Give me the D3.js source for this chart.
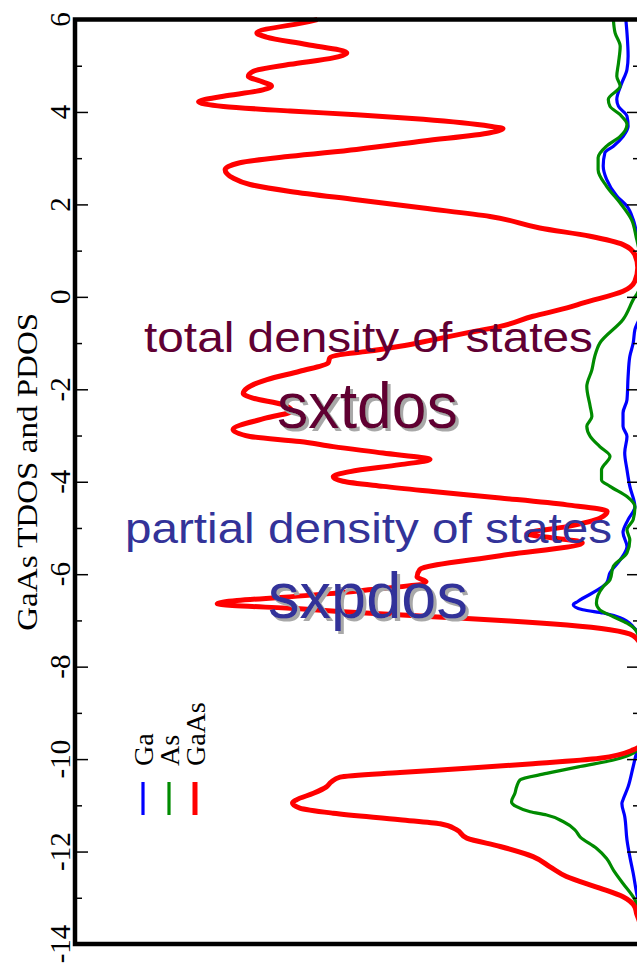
<!DOCTYPE html>
<html>
<head>
<meta charset="utf-8">
<script src="https://cdn.jsdelivr.net/npm/d3@7"></script>
<style>
html, body { margin: 0; padding: 0; background: #fff; overflow: hidden; }
</style>
</head>
<body>
<script>
const serif = "\"Liberation Serif\", \"Times New Roman\", serif";
const sans = "\"Liberation Sans\", Arial, Helvetica, sans-serif";

// energy (eV), density of states (arb. units)
const gaasDos = [
    [6.00, 5.70], [5.96, 5.83], [5.71, 6.77], [5.62, 6.60], [5.46, 5.89], [5.28, 5.18],
    [5.17, 5.42], [5.03, 6.18], [4.88, 6.83], [4.77, 6.92], [4.67, 6.71], [4.56, 6.51],
    [4.45, 6.77], [4.34, 7.36], [4.22, 7.80], [4.12, 7.36], [4.02, 6.18], [3.94, 5.01],
    [3.84, 3.83], [3.69, 2.65], [3.64, 2.42], [3.55, 2.65], [3.37, 3.83], [3.19, 5.01],
    [3.04, 6.18], [2.90, 7.07], [2.75, 7.33], [2.57, 7.19], [2.43, 6.89], [2.28, 6.18],
    [2.10, 5.01], [1.92, 3.83], [1.74, 2.65], [1.49, 1.77], [1.31, 0.88], [1.13, 0.30],
    [0.91, 0.09], [0.63, 0.04], [0.34, 0.09], [0.12, 0.30], [-0.13, 1.00], [-0.24, 1.29],
    [-0.42, 1.89], [-0.64, 2.47], [-0.78, 3.06], [-0.93, 3.66], [-1.07, 4.24], [-1.18, 4.82],
    [-1.25, 5.30], [-1.32, 5.48], [-1.43, 5.51], [-1.61, 6.01], [-1.79, 6.59], [-1.97, 6.94],
    [-2.09, 7.01], [-2.19, 6.84], [-2.33, 6.31], [-2.47, 6.15], [-2.62, 6.60], [-2.87, 7.19],
    [-3.02, 6.89], [-3.13, 6.01], [-3.24, 5.42], [-3.38, 4.54], [-3.52, 3.71], [-3.63, 4.24],
    [-3.78, 5.12], [-3.89, 5.42], [-3.99, 5.25], [-4.10, 4.54], [-4.21, 3.66], [-4.35, 2.47],
    [-4.50, 1.29], [-4.64, 0.58], [-4.79, 0.71], [-4.97, 1.29], [-5.12, 2.00], [-5.32, 1.02],
    [-5.60, 2.47], [-5.90, 3.89], [-6.06, 3.94], [-6.16, 3.78], [-6.42, 5.48], [-6.64, 7.47],
    [-6.75, 6.01], [-6.81, 5.25], [-6.92, 3.66], [-7.01, 2.30], [-7.10, 1.29], [-7.20, 0.53],
    [-7.33, 0.12], [-7.53, 0.00], [-9.70, 0.00], [-9.80, 0.12], [-9.98, 0.71], [-10.10, 1.89],
    [-10.20, 3.06], [-10.29, 4.24], [-10.39, 5.30], [-10.49, 5.45], [-10.60, 5.54], [-10.74, 5.77],
    [-10.88, 6.07], [-10.95, 6.14], [-11.06, 6.01], [-11.17, 5.42], [-11.31, 4.24], [-11.40, 3.53],
    [-11.53, 3.24], [-11.71, 3.06], [-11.89, 2.47], [-12.11, 1.89], [-12.33, 1.59], [-12.54, 1.30],
    [-12.79, 0.71], [-12.98, 0.30], [-13.20, 0.09], [-13.34, 0.06], [-13.59, 0.00], [-14.00, 0.00]
];

const asDos = [
    [6.00, 0.47], [5.71, 0.44], [5.42, 0.35], [5.06, 0.38], [4.77, 0.41], [4.56, 0.35],
    [4.27, 0.56], [4.12, 0.53], [3.94, 0.35], [3.73, 0.23], [3.47, 0.35], [3.26, 0.59],
    [3.01, 0.74], [2.75, 0.74], [2.39, 0.59], [2.03, 0.35], [1.67, 0.15], [1.31, 0.07],
    [0.80, 0.00], [0.16, 0.02], [-0.06, 0.12], [-0.49, 0.30], [-1.00, 0.71], [-1.29, 0.80],
    [-1.58, 0.85], [-1.94, 0.94], [-2.37, 0.88], [-2.59, 0.85], [-2.80, 0.94], [-3.02, 0.88],
    [-3.24, 0.71], [-3.45, 0.53], [-3.74, 0.68], [-3.96, 0.68], [-4.10, 0.53], [-4.32, 0.23],
    [-4.54, 0.09], [-4.82, 0.12], [-5.04, 0.23], [-5.26, 0.18], [-5.54, 0.23], [-5.83, 0.47],
    [-6.12, 0.53], [-6.27, 0.65], [-6.63, 0.77], [-6.77, 0.71], [-6.92, 0.47], [-7.06, 0.23],
    [-7.24, 0.06], [-7.53, 0.00], [-9.69, 0.00], [-9.87, 0.12], [-10.02, 0.47], [-10.16, 1.06],
    [-10.31, 1.65], [-10.45, 2.12], [-10.60, 2.18], [-10.74, 2.21], [-10.92, 2.27], [-11.03, 2.18],
    [-11.14, 1.94], [-11.21, 1.65], [-11.35, 1.36], [-11.53, 1.15], [-11.68, 1.06], [-11.93, 0.77],
    [-12.15, 0.59], [-12.40, 0.47], [-12.69, 0.30], [-12.98, 0.12], [-13.12, 0.06], [-13.37, 0.00],
    [-14.00, 0.00]
];

const gaDos = [
    [6.00, 0.25], [5.71, 0.23], [5.21, 0.21], [4.92, 0.23], [4.63, 0.32], [4.27, 0.41],
    [4.12, 0.38], [3.91, 0.23], [3.69, 0.21], [3.47, 0.30], [3.26, 0.47], [3.12, 0.62],
    [2.83, 0.65], [2.54, 0.59], [2.18, 0.41], [1.96, 0.23], [1.67, 0.12], [1.39, 0.06],
    [1.02, 0.00], [-0.39, 0.00], [-0.71, 0.09], [-1.00, 0.12], [-1.29, 0.18], [-1.72, 0.21],
    [-2.23, 0.23], [-2.51, 0.30], [-2.80, 0.30], [-3.02, 0.23], [-3.37, 0.27], [-3.74, 0.23],
    [-4.10, 0.18], [-4.54, 0.09], [-4.82, 0.21], [-5.10, 0.30], [-5.40, 0.23], [-5.69, 0.35],
    [-5.97, 0.53], [-6.19, 0.59], [-6.59, 1.10], [-6.66, 1.18], [-6.77, 1.01], [-6.84, 0.65],
    [-6.94, 0.35], [-7.14, 0.12], [-7.42, 0.00], [-9.69, 0.00], [-9.87, 0.06], [-10.16, 0.12],
    [-10.60, 0.21], [-10.88, 0.30], [-10.96, 0.32], [-11.24, 0.27], [-11.75, 0.23], [-12.11, 0.18],
    [-12.47, 0.12], [-12.90, 0.06], [-13.26, 0.00], [-14.00, 0.00]
];

const seriesNames = ["Ga", "As", "GaAs"];
const seriesColors = ["#0000ff", "#008b00", "#ff0000"];
const seriesWidths = [3.2, 3.2, 5];
const seriesData = [gaDos, asDos, gaasDos];

const majorTicks = [-14, -12, -10, -8, -6, -4, -2, 0, 2, 4, 6];
const minorTicks = [-13, -11, -9, -7, -5, -3, -1, 1, 3, 5];
const axisTitle = "GaAs TDOS and PDOS";

const width = 637;
const height = 967;
const frame = { left: 75, right: 641, top: 19.5, bottom: 944 };

let svg = d3.select("body")
    .append("svg")
    .attr("width", width)
    .attr("height", height);

// soft grey drop shadow for the big program names
svg.append("defs")
    .append("filter")
    .attr("id", "shadow")
    .attr("x", "-10%")
    .attr("y", "-10%")
    .attr("width", "130%")
    .attr("height", "130%")
    .append("feDropShadow")
    .attr("dx", 3)
    .attr("dy", 3)
    .attr("stdDeviation", 0.6)
    .attr("flood-color", "#a8a8a8")
    .attr("flood-opacity", 1);

let yScale = d3.scaleLinear()
    .domain([-14, 6])
    .range([frame.bottom, frame.top]);

let xScale = d3.scaleLinear()
    .domain([0, 10])
    .range([640, 74]);


function drawCurves() {
    let line = d3.line()
        .x(d => xScale(d[1]))
        .y(d => yScale(d[0]))
        .curve(d3.curveMonotoneY);

    svg.append("g")
        .classed("curves", true)
        .selectAll("path")
        .data(seriesData)
        .enter()
        .append("path")
        .attr("d", d => line(d))
        .attr("fill", "none")
        .attr("stroke", (d, i) => seriesColors[i])
        .attr("stroke-width", (d, i) => seriesWidths[i])
        .attr("stroke-linejoin", "round");
}


function drawAxes() {
    let ticks = svg.append("g").classed("ticks", true);

    let addAxis = (axis, x) => {
        let g = ticks.append("g")
            .attr("transform", `translate(${x},0)`)
            .call(axis);
        g.select(".domain").remove();
        g.selectAll("line").attr("stroke", "#000").attr("stroke-width", 1.5);
        g.selectAll("text").remove();
    };

    addAxis(d3.axisRight(yScale).tickValues(majorTicks).tickSize(13), frame.left);
    addAxis(d3.axisRight(yScale).tickValues(minorTicks).tickSize(7), frame.left);
    addAxis(d3.axisLeft(yScale).tickValues(majorTicks).tickSize(14), frame.right);
    addAxis(d3.axisLeft(yScale).tickValues(minorTicks).tickSize(8), frame.right);

    svg.append("g")
        .classed("tick-labels", true)
        .selectAll("text")
        .data(majorTicks)
        .enter()
        .append("text")
        .attr("transform", d => `translate(70,${yScale(d)}) rotate(-90)`)
        .attr("text-anchor", "middle")
        .attr("font-family", serif)
        .attr("font-size", 29)
        .attr("fill", "#000")
        .text(d => String(d));

    svg.append("text")
        .attr("transform", `translate(37,${(frame.top + frame.bottom) / 2 - 10}) rotate(-90)`)
        .attr("text-anchor", "middle")
        .attr("font-family", serif)
        .attr("font-size", 30)
        .attr("textLength", 318)
        .attr("lengthAdjust", "spacingAndGlyphs")
        .attr("fill", "#000")
        .text(axisTitle);

    svg.append("rect")
        .attr("x", frame.left)
        .attr("y", frame.top)
        .attr("width", frame.right - frame.left)
        .attr("height", frame.bottom - frame.top)
        .attr("fill", "none")
        .attr("stroke", "#000")
        .attr("stroke-width", 4.5);
}


function drawLegend() {
    let xs = [143, 169, 195];
    let g = svg.append("g").classed("legend", true);

    g.selectAll("line")
        .data(seriesNames)
        .enter()
        .append("line")
        .attr("x1", (d, i) => xs[i])
        .attr("x2", (d, i) => xs[i])
        .attr("y1", 782)
        .attr("y2", 815)
        .attr("stroke", (d, i) => seriesColors[i])
        .attr("stroke-width", (d, i) => seriesWidths[i]);

    g.selectAll("text")
        .data(seriesNames)
        .enter()
        .append("text")
        .attr("transform", (d, i) => `translate(${xs[i] + 10},766) rotate(-90)`)
        .attr("font-family", serif)
        .attr("font-size", 28)
        .attr("fill", "#000")
        .text(d => d);
}


function drawNote(text, x, y, size, length, color, shadow) {
    let note = svg.append("text")
        .attr("x", x)
        .attr("y", y)
        .attr("font-family", sans)
        .attr("font-size", size)
        .attr("textLength", length)
        .attr("lengthAdjust", "spacingAndGlyphs")
        .attr("fill", color)
        .text(text);
    if (shadow) {
        note.attr("filter", "url(#shadow)");
    }
}


drawCurves();
drawAxes();
drawLegend();
drawNote("total density of states", 144, 352, 42, 449, "#600033", false);
drawNote("sxtdos", 277, 428, 64, 181, "#600033", true);
drawNote("partial density of states", 125, 543, 42, 487, "#333399", false);
drawNote("sxpdos", 268, 618, 64, 200, "#333399", true);
</script>
</body>
</html>
